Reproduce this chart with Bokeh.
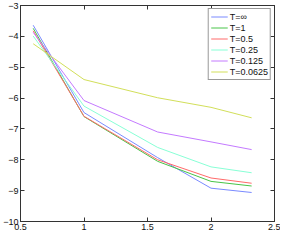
from bokeh.plotting import figure
from bokeh.models import LinearAxis, Range1d, FixedTicker, Legend, LegendItem
from bokeh.embed import file_html
from bokeh.resources import INLINE

x = [0.6, 1.0, 1.58, 2.0, 2.32]
t_inf = [-3.64, -6.47, -7.93, -8.92, -9.06]
t_1 = [-3.74, -6.60, -8.05, -8.70, -8.85]
t_05 = [-3.82, -6.59, -8.00, -8.59, -8.76]
t_025 = [-3.99, -6.26, -7.60, -8.23, -8.42]
t_0125 = [-3.87, -6.08, -7.10, -7.42, -7.67]
t_00625 = [-4.24, -5.40, -5.99, -6.30, -6.64]

labels = ["T=\u221e", "T=1", "T=0.5", "T=0.25", "T=0.125", "T=0.0625"]
series = [t_inf, t_1, t_05, t_025, t_0125, t_00625]
colors = ["#7a8aff", "#48c448", "#ff6a6a", "#88ffd6", "#c47aff", "#d2df5a"]

xticks = [0.5, 1, 1.5, 2, 2.5]
yticks = [-10, -9, -8, -7, -6, -5, -4, -3]

FONT = "Liberation Sans"
p = figure(frame_width=254, frame_height=216, output_backend="svg", toolbar_location=None,
           x_range=Range1d(0.5, 2.5), y_range=Range1d(-10, -3),
           min_border_left=15, min_border_right=6, min_border_top=5, min_border_bottom=12)
p.grid.visible = False
p.outline_line_color = "#333333"
p.background_fill_color = "white"
p.border_fill_color = "white"

def style_axis(ax, show_labels=True):
    ax.major_tick_in = 4
    ax.major_tick_out = 0
    ax.minor_tick_line_color = None
    ax.axis_line_color = "#333333"
    ax.major_tick_line_color = "#333333"
    ax.major_label_text_font = FONT
    ax.major_label_text_font_size = "9px"
    ax.major_label_text_color = "#111111"
    ax.major_label_standoff = 2
    if not show_labels:
        ax.major_label_text_font_size = "0px"
        ax.major_label_text_color = None
        ax.major_label_standoff = 0

p.xaxis.ticker = FixedTicker(ticks=xticks)
p.yaxis.ticker = FixedTicker(ticks=yticks)
style_axis(p.xaxis[0])
style_axis(p.yaxis[0])
p.yaxis[0].major_label_orientation = "horizontal"

ra = LinearAxis(ticker=FixedTicker(ticks=yticks))
style_axis(ra, False)
ra.major_label_overrides = {t: "" for t in yticks}
p.add_layout(ra, "right")
ta = LinearAxis(ticker=FixedTicker(ticks=xticks))
style_axis(ta, False)
ta.major_label_overrides = {t: "" for t in xticks}
p.add_layout(ta, "above")

items = []
for lab, ys, c in zip(labels, series, colors):
    r = p.line(x, ys, line_color=c, line_width=1)
    items.append(LegendItem(label=lab, renderers=[r]))

leg = Legend(items=items, location="top_right")
leg.label_text_font = FONT
leg.label_text_font_size = "9px"
leg.label_text_color = "#111111"
leg.glyph_width = 17
leg.glyph_height = 11
leg.label_height = 11
leg.spacing = 0
leg.padding = 2
leg.margin = 3
leg.label_standoff = 2
leg.border_line_color = "#333333"
leg.background_fill_alpha = 1
p.add_layout(leg)

open("out.html", "w").write(file_html(p, INLINE))
